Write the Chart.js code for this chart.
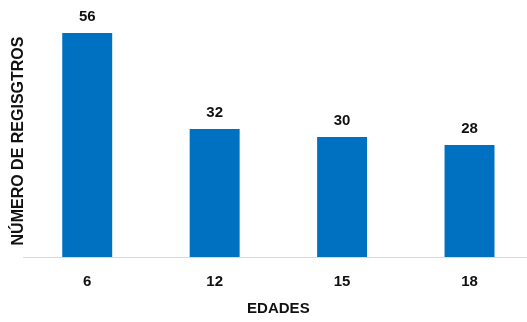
<!DOCTYPE html>
<html>
<head>
<meta charset="utf-8">
<script src="https://cdn.jsdelivr.net/npm/chart.js@4.4.1/dist/chart.umd.min.js"></script>
<style>
  html, body { margin: 0; padding: 0; background: #ffffff; overflow: hidden; }
  #wrap { width: 527px; height: 322px; overflow: hidden; }
  canvas { display: block; }
</style>
</head>
<body>
<div id="wrap"><canvas id="chart" width="540" height="322"></canvas></div>
<script>
// Registros por edad
const categories = ['6', '12', '15', '18'];
const registros = [56, 32, 30, 28];
const yAxisTitle = 'NÚMERO DE REGISGTROS';
const xAxisTitle = 'EDADES';

const FONT = "'Liberation Sans', Arial, sans-serif";
const TEXT = '#111111';

// Value labels above each bar
const valueLabels = {
  id: 'valueLabels',
  afterDatasetsDraw(chart) {
    const ctx = chart.ctx;
    const meta = chart.getDatasetMeta(0);
    ctx.save();
    ctx.font = 'bold 15px ' + FONT;
    ctx.fillStyle = TEXT;
    ctx.textAlign = 'center';
    ctx.textBaseline = 'alphabetic';
    meta.data.forEach((bar, i) => {
      ctx.fillText(String(chart.data.datasets[0].data[i]), bar.x, bar.y - 12);
    });
    ctx.restore();
  }
};

new Chart(document.getElementById('chart'), {
  type: 'bar',
  data: {
    labels: categories,
    datasets: [{
      data: registros,
      backgroundColor: '#0070C0',
      borderWidth: 0,
      barPercentage: 0.392,
      categoryPercentage: 1.0
    }]
  },
  options: {
    responsive: false,
    animation: false,
    events: [],
    layout: { padding: { left: 10.5, right: 6.75, top: 25, bottom: 4.5 } },
    plugins: {
      legend: { display: false },
      tooltip: { enabled: false }
    },
    scales: {
      x: {
        grid: { display: false, drawTicks: false },
        border: { display: true, color: '#d9d9d9', width: 1 },
        ticks: {
          padding: 16,
          color: TEXT,
          font: { family: FONT, size: 15, weight: 'bold', lineHeight: 1.2 }
        },
        title: {
          display: true,
          text: xAxisTitle,
          color: TEXT,
          padding: { top: -7.5, bottom: 0 },
          font: { family: FONT, size: 15, weight: 'bold', lineHeight: 1.2 }
        }
      },
      y: {
        min: 0,
        max: 58,
        grid: { display: false, drawTicks: false },
        border: { display: false },
        ticks: { display: false },
        title: {
          display: true,
          text: yAxisTitle,
          color: TEXT,
          padding: { top: 0, bottom: -3 },
          font: { family: FONT, size: 16, weight: 'bold', lineHeight: 1 }
        }
      }
    }
  },
  plugins: [valueLabels]
});
</script>
</body>
</html>
